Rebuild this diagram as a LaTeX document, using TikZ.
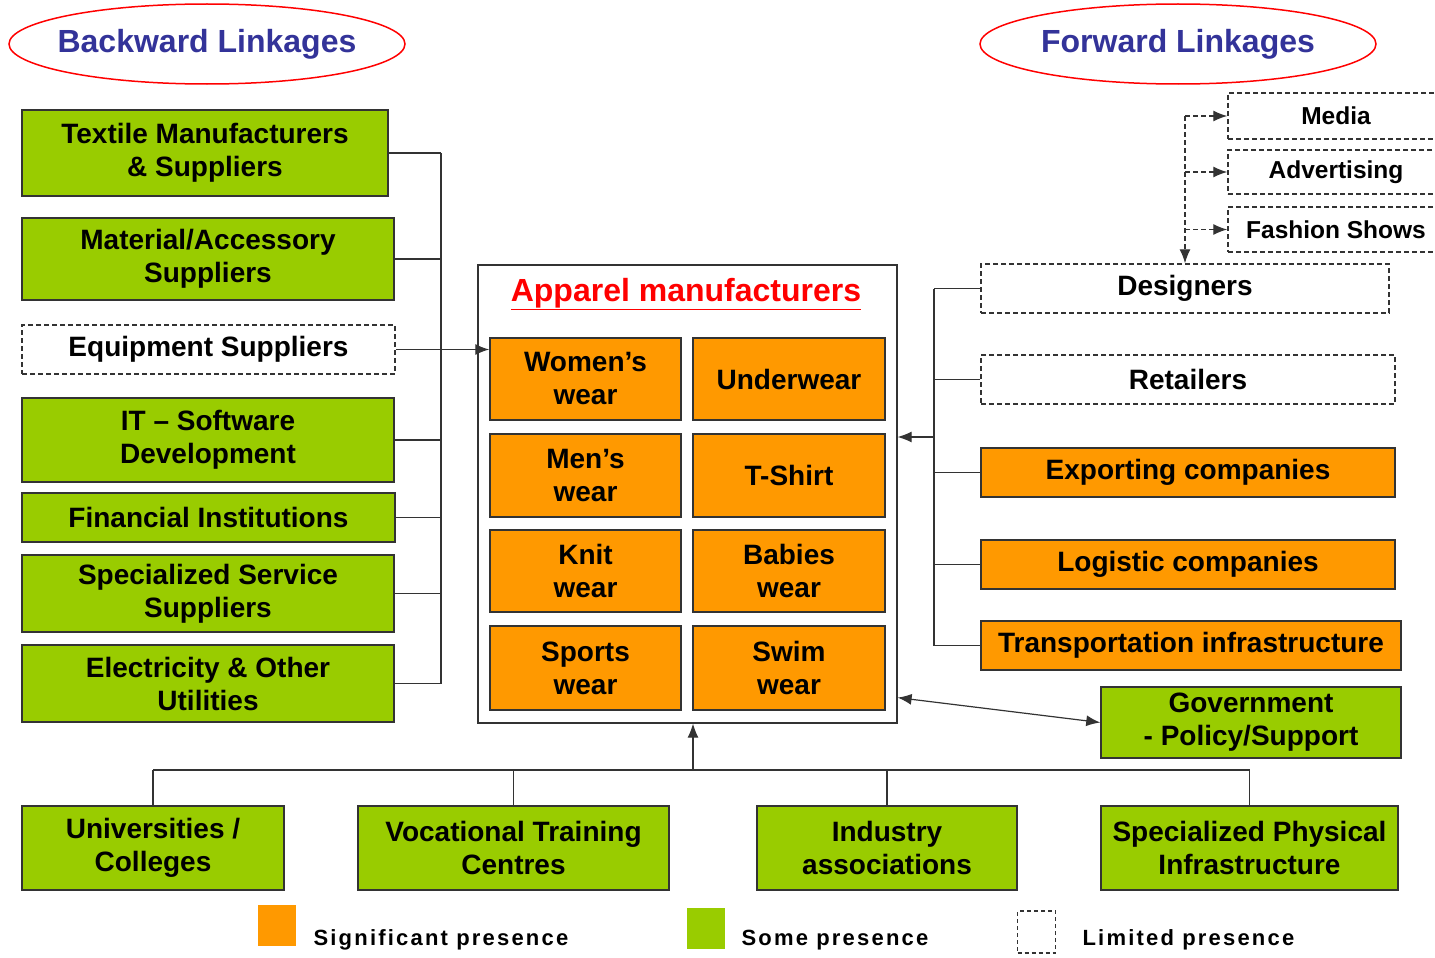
\documentclass[tikz,border=0pt]{standalone}
\usepackage{fontspec}
\setmainfont{Liberation Sans}
\newfontfamily\keyfamily[LetterSpace=10]{Liberation Sans}
\usetikzlibrary{arrows.meta}
\definecolor{somegreen}{HTML}{99CC00}
\definecolor{sigorange}{HTML}{FF9900}
\definecolor{linkblue}{HTML}{333399}
\definecolor{edgegray}{HTML}{333333}
\newcommand{\boxfont}{\fontsize{28}{33}\selectfont\bfseries}
\newcommand{\smallboxfont}{\fontsize{24.5}{28}\selectfont\bfseries}
\newcommand{\keyfont}{\keyfamily\fontsize{22}{24}\selectfont\bfseries}
\tikzset{
  box/.style={draw=edgegray, line width=1.5pt, align=center, inner sep=0pt, font=\boxfont},
  somebox/.style={box, fill=somegreen},
  sigbox/.style={box, fill=sigorange},
  limbox/.style={box, fill=white, dash pattern=on 5pt off 3pt},
  linktext/.style={text=linkblue, font=\fontsize{32}{36}\selectfont\bfseries},
  linkoval/.style={draw=red, line width=1.5pt},
  wire/.style={draw=edgegray, line width=1.2pt},
  arrowed/.style={-{Latex[length=14pt,width=11pt]}},
}

\begin{document}
\begin{tikzpicture}[x=1pt,y=-1pt]
  \useasboundingbox (0,0) rectangle (1435,958);
  \clip (0,0) rectangle (1435,958);

  % headings
  \node[linktext] (backward) at (207,44) {Backward Linkages};
  \node[linktext] (forward) at (1178,44) {Forward Linkages};
  \draw[linkoval] (backward.center) ellipse (198 and 40);
  \draw[linkoval] (forward.center) ellipse (198 and 40);

  % backward linkages
  \node[somebox, minimum width=366pt, minimum height=86pt] (textile) at (205,153) {Textile Manufacturers\\\& Suppliers};
  \node[somebox, minimum width=372pt, minimum height=82pt] (material) at (208,259) {Material/Accessory\\Suppliers};
  \node[limbox, minimum width=373pt, minimum height=49pt] (equip) at (208.5,349.5) {Equipment Suppliers};
  \node[somebox, minimum width=372pt, minimum height=84pt] (itsoft) at (208,440) {IT -- Software\\Development};
  \node[somebox, minimum width=373pt, minimum height=49pt] (finance) at (208.5,517.5) {Financial Institutions};
  \node[somebox, minimum width=372pt, minimum height=77pt] (service) at (208,593.5) {Specialized Service\\Suppliers};
  \node[somebox, minimum width=372pt, minimum height=77pt] (utility) at (208,683.5) {Electricity \& Other\\Utilities};

  % apparel manufacturers
  \node[draw=edgegray, line width=1.2pt, fill=white, minimum width=419pt, minimum height=458pt] (apparel) at (687.5,494) {};
  \node[text=red, font=\fontsize{32}{36}\selectfont\bfseries] (appareltitle) at (686,294) {\underline{Apparel manufacturers}};
  \node[sigbox, minimum width=191pt, minimum height=82pt] (women) at (585.5,379) {Women's\\wear};
  \node[sigbox, minimum width=192pt, minimum height=82pt] (under) at (789,379) {Underwear};
  \node[sigbox, minimum width=191pt, minimum height=83pt] (men) at (585.5,475.5) {Men's\\wear};
  \node[sigbox, minimum width=192pt, minimum height=83pt] (tshirt) at (789,475.5) {T-Shirt};
  \node[sigbox, minimum width=191pt, minimum height=82pt] (knit) at (585.5,571) {Knit\\wear};
  \node[sigbox, minimum width=192pt, minimum height=82pt] (babies) at (789,571) {Babies\\wear};
  \node[sigbox, minimum width=191pt, minimum height=84pt] (sports) at (585.5,668) {Sports\\wear};
  \node[sigbox, minimum width=192pt, minimum height=84pt] (swim) at (789,668) {Swim\\wear};

  % forward linkages
  \node[limbox, font=\smallboxfont, minimum width=216pt, minimum height=46pt] (media) at (1336,116) {Media};
  \node[limbox, font=\smallboxfont, minimum width=216pt, minimum height=44pt] (advert) at (1336,172) {Advertising};
  \node[limbox, font=\smallboxfont, minimum width=216pt, minimum height=45pt] (fashion) at (1336,229.5) {Fashion Shows};
  \node[limbox, minimum width=408pt, minimum height=49pt] (designers) at (1185,288.5) {Designers};
  \node[limbox, minimum width=414pt, minimum height=49pt] (retail) at (1188,379.5) {Retailers};
  \node[sigbox, minimum width=414pt, minimum height=49pt] (export) at (1188,472.5) {Exporting companies};
  \node[sigbox, minimum width=414pt, minimum height=49pt] (logistic) at (1188,564.5) {Logistic companies};
  \node[sigbox, minimum width=420pt, minimum height=49pt] (transport) at (1191,645.5) {Transportation infrastructure};
  \node[somebox, minimum width=300pt, minimum height=71pt] (govt) at (1251,722.5) {Government\\- Policy/Support};

  % supporting institutions
  \node[somebox, minimum width=262pt, minimum height=84pt] (univ) at (153,848) {Universities /\\Colleges};
  \node[somebox, minimum width=311pt, minimum height=84pt] (vocat) at (513.5,848) {Vocational Training\\Centres};
  \node[somebox, minimum width=260pt, minimum height=84pt] (assoc) at (887,848) {Industry\\associations};
  \node[somebox, minimum width=297pt, minimum height=84pt] (physic) at (1249.5,848) {Specialized Physical\\Infrastructure};

  % connectors
  \coordinate (busL) at (441,0);
  \coordinate (busR) at (934,0);
  \coordinate (busB) at (0,770);
  \coordinate (hubR) at (934,437);
  \foreach \n in {textile,material,equip,itsoft,finance,service,utility}
    \draw[wire] (\n.east) -- (\n.east -| busL);
  \draw[wire] (textile.east -| busL) -- (utility.east -| busL);
  \draw[wire, arrowed] (equip.east -| busL) -- (equip.east -| women.west);

  \foreach \n in {designers,retail,export,logistic,transport}
    \draw[wire] (\n.west) -- (\n.west -| busR);
  \draw[wire] (designers.west -| busR) -- (transport.west -| busR);
  \draw[wire, arrowed] (hubR) -- (hubR -| apparel.east);
  \draw[wire, {Latex[length=14pt,width=11pt]}-{Latex[length=14pt,width=11pt]}] ([yshift=26pt]apparel.south east) -- (govt.west);

  \foreach \n in {univ,vocat,assoc,physic}
    \draw[wire] (\n.north) -- (\n.north |- busB);
  \draw[wire] (univ.north |- busB) -- (physic.north |- busB);
  \draw[wire, arrowed] (busB -| 693,0) -- (apparel.south -| 693,0);

  \coordinate (mediahub) at (designers.north |- media.west);
  \draw[wire, dash pattern=on 5pt off 3pt, arrowed] (mediahub) -- (designers.north);
  \foreach \n in {media,advert,fashion}
    \draw[wire, dash pattern=on 5pt off 3pt, arrowed] (\n.west -| mediahub) -- (\n.west);

  % key
  \node[fill=sigorange, minimum width=38pt, minimum height=41pt, inner sep=0pt] (keysig) at (277,925.5) {};
  \node[anchor=west, font=\keyfont] (keysigtext) at (310,940) {Significant\ presence};
  \node[fill=somegreen, minimum width=38pt, minimum height=41pt, inner sep=0pt] (keysome) at (706,928.5) {};
  \node[anchor=west, font=\keyfont] (keysometext) at (738,940) {Some\ presence};
  \node[draw=edgegray, line width=1.2pt, dash pattern=on 4pt off 3pt, minimum width=38pt, minimum height=42pt, inner sep=0pt] (keylim) at (1036.5,932) {};
  \node[anchor=west, font=\keyfont] (keylimtext) at (1079,940) {Limited\ presence};
\end{tikzpicture}
\end{document}
